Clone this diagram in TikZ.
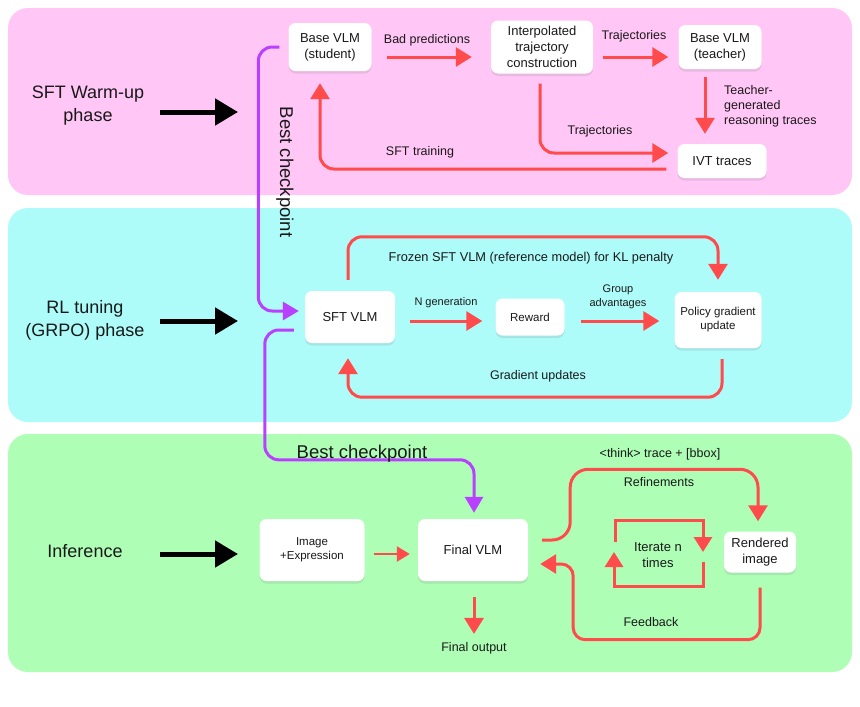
\documentclass[tikz,border=0pt]{standalone}
\usepackage{fontspec}
\setmainfont{Liberation Sans}
\usetikzlibrary{arrows.meta,shadows,calc}
\definecolor{pinkbg}{RGB}{255,198,246}
\definecolor{cyanbg}{RGB}{173,252,250}
\definecolor{greenbg}{RGB}{174,254,182}
\definecolor{redc}{RGB}{255,75,75}
\definecolor{purp}{RGB}{186,64,255}
\definecolor{txt}{RGB}{25,25,25}
\begin{document}
\begin{tikzpicture}[x=1pt,y=-1pt,
  box/.style={fill=white, rounded corners=7pt, align=center, inner sep=0pt, text=txt,
    font=\fontsize{13}{16}\selectfont,
    drop shadow={opacity=0.18, shadow xshift=0pt, shadow yshift=-2.5pt}},
  smallbox/.style={box, font=\fontsize{11.5}{14}\selectfont},
  redarr/.style={draw=redc, line width=3pt, rounded corners=14pt, -{Triangle[length=16pt,width=19pt]}},
  redsharp/.style={draw=redc, line width=3pt, -{Triangle[length=15pt,width=18pt]}},
  redsmall/.style={draw=redc, line width=2.5pt, -{Triangle[length=13pt,width=15pt]}},
  purparr/.style={draw=purp, line width=3pt, rounded corners=14pt, -{Triangle[length=16pt,width=18pt]}},
  blackarr/.style={draw=black, line width=5pt, -{Triangle[length=23pt,width=26pt]}},
  lbl/.style={font=\fontsize{12.5}{15}\selectfont, align=center, inner sep=0pt, text=txt},
  slbl/.style={font=\fontsize{11}{13.5}\selectfont, align=center, inner sep=0pt, text=txt},
  phase/.style={font=\fontsize{18}{23}\selectfont, align=center, inner sep=0pt, text=txt},
]
\useasboundingbox (0,0) rectangle (860,707);
\fill[white] (0,0) rectangle (860,707);

% panels
\fill[pinkbg, rounded corners=20pt] (8,8) rectangle (852,195);
\fill[cyanbg, rounded corners=20pt] (8,208) rectangle (852,422);
\fill[greenbg, rounded corners=20pt] (8,434) rectangle (852,672);

% phase labels
\node[phase] (p1) at (88,106) {SFT Warm-up\\phase};
\node[phase] (p2) at (85,320) {RL tuning\\(GRPO) phase};
\node[phase] (p3) at (85,551) {Inference};
\coordinate (a1s) at (160,112); \coordinate (a1e) at (238,112);
\coordinate (a2s) at (160,321); \coordinate (a2e) at (238,321);
\coordinate (a3s) at (160,554); \coordinate (a3e) at (238,554);
\draw[blackarr] (a1s) -- (a1e);
\draw[blackarr] (a2s) -- (a2e);
\draw[blackarr] (a3s) -- (a3e);

% SFT warm-up nodes
\node[box, minimum width=83pt, minimum height=48pt] (student) at (330,47) {Base VLM\\(student)};
\node[box, minimum width=102pt, minimum height=53pt] (interp) at (542,47) {Interpolated\\trajectory\\construction};
\node[box, minimum width=83pt, minimum height=44pt] (teacher) at (720,47) {Base VLM\\(teacher)};
\node[box, minimum width=89pt, minimum height=34pt] (ivt) at (722,161) {IVT traces};

\draw[redarr] ($(student.east)+(15,10)$) -- ($(interp.west)+(-19,10)$);
\node[lbl] at (427,40) {Bad predictions};
\draw[redarr] ($(interp.east)+(10,10)$) -- ($(teacher.west)+(-10,10)$);
\node[lbl] at (634,36) {Trajectories};
\draw[redarr] ($(teacher.south)+(-15,8)$) -- ($(ivt.north)+(-17,-10)$);
\node[lbl, align=left, anchor=west] at (724,106) {Teacher-\\generated\\reasoning traces};
\draw[redarr] ($(interp.south)+(-2,10)$) |- ($(ivt.west)+(-9,-8)$);
\node[lbl] at (600,131) {Trajectories};
\draw[redarr] ($(ivt.west)+(-11,8)$) -| ($(student.south)+(-10,12)$);
\node[lbl] at (420,152) {SFT training};

% RL nodes
\node[box, minimum width=90pt, minimum height=52pt] (sft) at (350,317) {SFT VLM};
\node[smallbox, minimum width=69pt, minimum height=37pt] (reward) at (530,317) {Reward};
\node[smallbox, minimum width=87pt, minimum height=56pt] (policy) at (718,320) {Policy gradient\\update};

% purple best checkpoint 1
\draw[purparr] ($(student.west)+(-9,0)$) -- ++(-21,0) |- ($(sft.west)+(-6,-6)$);
\node[phase, font=\fontsize{18.5}{22}\selectfont, rotate=-90] (bc1) at (285,172) {Best checkpoint};

\draw[redarr] ($(sft.east)+(15,4)$) -- ($(reward.west)+(-13,4)$);
\node[slbl, font=\fontsize{11}{13}\selectfont] at (446,303) {N generation};
\draw[redarr] ($(reward.east)+(16,4)$) -- ($(policy.west)+(-15,1)$);
\node[slbl] at (618,297) {Group\\advantages};
\draw[redarr] ($(sft.north)+(-2,-11)$) |- ($(policy.north)+(0,-55)$) -- ($(policy.north)+(0,-12)$);
\node[slbl, font=\fontsize{12.8}{15}\selectfont] at (531,258) {Frozen SFT VLM (reference model) for KL penalty};
\draw[redarr] ($(policy.south)+(4,11)$) -- ++(0,38) -| ($(sft.south)+(-2,15)$);
\node[lbl] at (538,376) {Gradient updates};

% inference nodes
\node[smallbox, minimum width=105pt, minimum height=62pt] (image) at (312,550) {Image\\+Expression};
\node[box, minimum width=110pt, minimum height=62pt] (final) at (473,550) {Final VLM};
\node[box, minimum width=72pt, minimum height=41pt] (rendered) at (760,552) {Rendered\\image};
\node[lbl, font=\fontsize{13}{16}\selectfont] (iter) at (658,555) {Iterate n\\times};
\node[lbl] (output) at (474,648) {Final output};

% purple best checkpoint 2
\draw[purparr] ($(sft.west)+(-11,13)$) -- ++(-29,0) |- ($(final.north)+(1,-59)$) -- ($(final.north)+(1,-6)$);
\node[phase, font=\fontsize{18.5}{22}\selectfont] (bc2) at (362,454) {Best checkpoint};

\draw[redsmall] ($(image.east)+(9,4)$) -- ($(final.west)+(-8,4)$);
\draw[redarr] ($(final.south)+(1,16)$) -- ($(output.north)+(0,-8)$);
\draw[redarr, rounded corners=18pt] ($(final.east)+(14,-10)$) -- ++(28,0) |- ($(rendered.north)+(-2,-62)$) -- ($(rendered.north)+(-2,-10)$);
\node[lbl] at (660,454) {<think> trace + [bbox]};
\node[lbl] at (659,482) {Refinements};
\draw[redarr, rounded corners=12pt] ($(rendered.south)+(0,15)$) -- ++(0,52) -| ($(final.east)+(45,14)$) -- ($(final.east)+(12,14)$);
\node[lbl] at (651,622) {Feedback};

% iterate loop
\draw[redsharp] ($(iter)+(-43,-13)$) |- ($(iter)+(45,-35)$) -- ($(iter)+(45,-3)$);
\draw[redsharp] ($(iter)+(45,7)$) -- ($(iter)+(45,31)$) -| ($(iter)+(-44,-3)$);
\end{tikzpicture}
\end{document}
